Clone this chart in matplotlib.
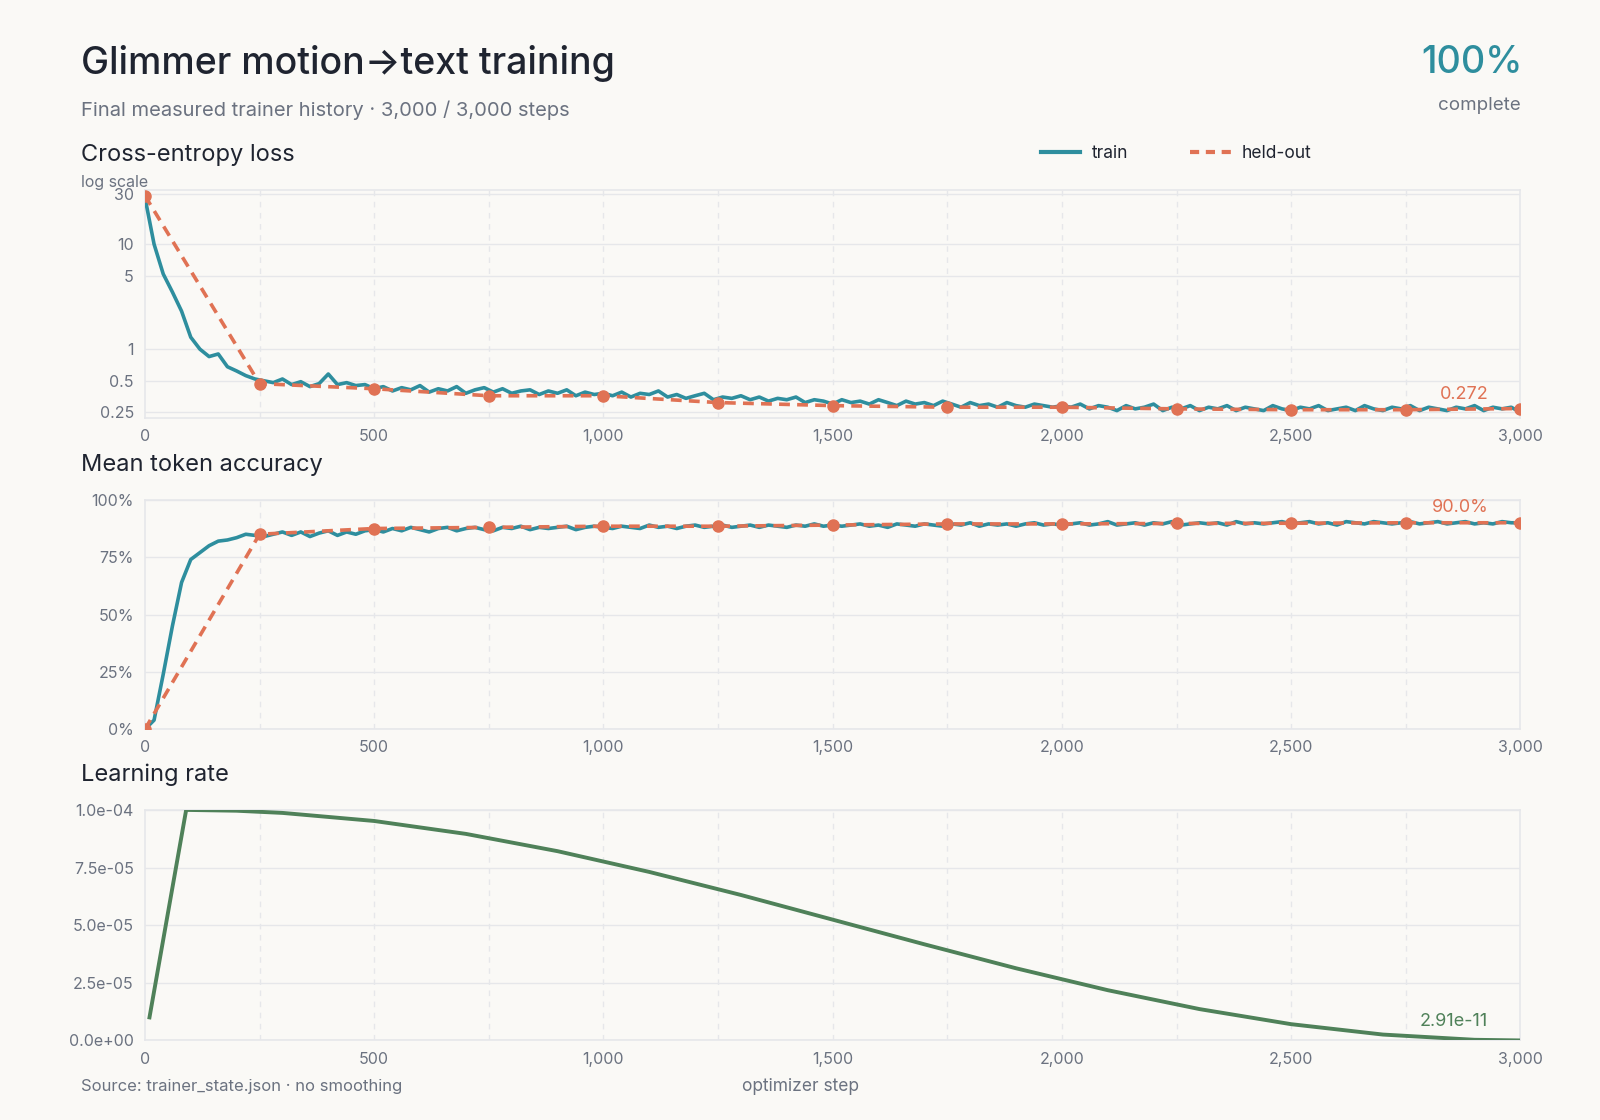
import matplotlib
matplotlib.use("Agg")
import matplotlib.pyplot as plt
from matplotlib.ticker import FuncFormatter, FixedLocator, NullLocator

plt.rcParams['font.family'] = ['Inter', 'DejaVu Sans']

steps = list(range(0, 3001, 20))
train_loss = [28, 10, 5.2, 3.5, 2.3, 1.3, 1.0, 0.85, 0.9, 0.68, 0.62, 0.56, 0.52,
 0.50, 0.48, 0.52, 0.46, 0.49, 0.44, 0.47, 0.58, 0.46, 0.48, 0.45, 0.46, 0.42,
 0.44, 0.40, 0.43, 0.41, 0.45, 0.39, 0.42, 0.40, 0.44, 0.38, 0.41, 0.43, 0.39, 0.42, 0.38, 0.40, 0.41, 0.37, 0.40, 0.38, 0.41, 0.36, 0.39, 0.37, 0.38,
 0.36, 0.39, 0.35, 0.38, 0.37, 0.40, 0.35, 0.37, 0.34, 0.36, 0.38, 0.33, 0.35, 0.34, 0.36, 0.33, 0.35, 0.32, 0.34, 0.33, 0.35, 0.31, 0.33, 0.32, 0.30,
 0.33, 0.31, 0.32, 0.30, 0.33, 0.31, 0.29, 0.32, 0.30, 0.31, 0.29, 0.32, 0.30, 0.28, 0.31, 0.29, 0.30, 0.28, 0.31, 0.29, 0.28, 0.30, 0.29, 0.28, 0.29,
 0.28, 0.30, 0.27, 0.29, 0.28, 0.26, 0.29, 0.27, 0.28, 0.30, 0.26, 0.28, 0.27, 0.29, 0.26, 0.28, 0.27, 0.29, 0.26, 0.28, 0.27, 0.26, 0.29, 0.27, 0.26,
 0.28, 0.27, 0.29, 0.26, 0.27, 0.28, 0.26, 0.29, 0.27, 0.26, 0.28, 0.27, 0.29, 0.26, 0.28, 0.27, 0.26, 0.28, 0.27, 0.29, 0.26, 0.28, 0.27, 0.28, 0.25]
train_acc = [0, 4, 24, 45, 64, 74, 77, 80, 82, 82.5, 83.5, 85, 84.5,
 84, 85, 86, 84.5, 86, 84, 85.5, 86.5, 84.5, 86, 85, 86.5, 87,
 86, 87.5, 86.5, 88, 87, 86, 87.5, 88, 86.5, 87.5, 88, 87, 86.5, 88, 87.5, 88.5, 87, 88, 87.5, 88, 88.5, 87, 88, 88.5, 88,
 87.5, 88.5, 88, 87.5, 89, 88, 88.5, 87.5, 88.5, 89, 88, 88.5, 89, 88, 88.5, 89, 88, 89, 88.5, 88, 89, 88.5, 89.5, 88.5, 89,
 88.5, 89, 89.5, 88.5, 89, 88, 89.5, 89, 88.5, 89.5, 89, 88.5, 89.5, 89, 90, 88.5, 89.5, 89, 89.5, 88.5, 89.5, 90, 89, 89.5, 89,
 89.5, 90, 89, 89.5, 90.5, 89, 89.5, 90, 89, 90, 89.5, 90.5, 89, 89.5, 90, 89.5, 90, 89, 90.5, 89.5, 90, 89.5, 90, 90.5, 89.5,
 90, 90.5, 89.5, 90, 89, 90.5, 90, 89.5, 90.5, 90, 89.5, 90, 90.5, 89.5, 90, 90.5, 89.5, 90, 90.5, 89.5, 90, 89.5, 90.5, 90, 90]

eval_steps = [0, 250, 500, 750, 1000, 1250, 1500, 1750, 2000, 2250, 2500, 2750, 3000]
eval_loss = [29, 0.47, 0.42, 0.36, 0.36, 0.31, 0.29, 0.28, 0.28, 0.27, 0.265, 0.265, 0.272]
eval_acc = [0, 85, 87.5, 88, 88.5, 88.5, 89, 89.5, 89.5, 89.7, 89.8, 90, 90]

lr_steps = [10, 90, 200, 300, 500, 700, 900, 1100, 1300, 1500, 1700, 1900, 2100, 2300, 2500, 2700, 2900, 3000]
lr_vals = [1.0e-5, 1.0e-4, 0.9965e-4, 0.987e-4, 0.952e-4, 0.896e-4, 0.821e-4, 0.731e-4, 0.631e-4,
           0.524e-4, 0.417e-4, 0.313e-4, 0.218e-4, 0.136e-4, 0.0705e-4, 0.0255e-4, 0.0028e-4, 2.91e-11]

BG = '#FAF9F6'; TEAL = '#2E8E9E'; ORANGE = '#E07254'; GREEN = '#4F8159'
DARK = '#1F2430'; GREY = '#6B7280'; GRID = '#E6E7EA'

fig = plt.figure(figsize=(16, 11.2), dpi=100, facecolor=BG)
W, H = 1568, 1098
def rect(x0, y0, x1, y1):
    return [x0 / W, 1 - y1 / H, (x1 - x0) / W, (y1 - y0) / H]

def style(ax):
    ax.set_facecolor(BG)
    for s in ax.spines.values():
        s.set_color(GRID); s.set_linewidth(1.2)
    ax.tick_params(length=0, labelsize=11.5, labelcolor=GREY, pad=8)
    ax.set_xlim(0, 3000)
    ax.set_xticks([0, 500, 1000, 1500, 2000, 2500, 3000])
    ax.xaxis.set_major_formatter(FuncFormatter(lambda v, p: f"{int(v):,}"))
    ax.grid(axis='y', color=GRID, lw=1)
    for v in range(250, 3000, 250):
        ax.axvline(v, color=GRID, lw=1, ls=(0, (4, 4)), zorder=0)

ax1 = fig.add_axes(rect(142, 186, 1490, 410))
style(ax1)
ax1.set_yscale('log')
ax1.set_ylim(0.22, 33)
ax1.yaxis.set_major_locator(FixedLocator([0.25, 0.5, 1, 5, 10, 30]))
ax1.yaxis.set_minor_locator(NullLocator())
ax1.yaxis.set_major_formatter(FuncFormatter(lambda v, p: f"{v:g}"))
ax1.plot(steps, train_loss, color=TEAL, lw=2.6, zorder=3)
ax1.plot(eval_steps, eval_loss, color=ORANGE, lw=2.6, ls=(0, (3, 2)), marker='o', ms=8, zorder=4)
ax1.text(2930, 0.31, "0.272", color=ORANGE, fontsize=13, ha='right', va='bottom')

ax2 = fig.add_axes(rect(142, 490, 1490, 715))
style(ax2)
ax2.set_ylim(0, 100)
ax2.set_yticks([0, 25, 50, 75, 100])
ax2.yaxis.set_major_formatter(FuncFormatter(lambda v, p: f"{int(v)}%"))
ax2.plot(steps, train_acc, color=TEAL, lw=2.6, zorder=3)
ax2.plot(eval_steps, eval_acc, color=ORANGE, lw=2.6, ls=(0, (3, 2)), marker='o', ms=8, zorder=4)
ax2.text(2930, 93, "90.0%", color=ORANGE, fontsize=13, ha='right', va='bottom')

ax3 = fig.add_axes(rect(142, 794, 1490, 1020))
style(ax3)
ax3.set_ylim(0, 1.0e-4)
ax3.set_yticks([0, 2.5e-5, 5e-5, 7.5e-5, 1e-4])
ax3.yaxis.set_major_formatter(FuncFormatter(lambda v, p: f"{v:.1e}"))
ax3.plot(lr_steps, lr_vals, color=GREEN, lw=2.8, zorder=3)
ax3.text(2930, 0.45e-5, "2.91e-11", color=GREEN, fontsize=13, ha='right', va='bottom')

def ftext(x, y, s, **kw):
    fig.text(x / W, 1 - y / H, s, **kw)

ftext(79, 62, "Glimmer motion→text training", fontsize=27, color=DARK, va='center', fontweight='medium')
ftext(79, 108, "Final measured trainer history · 3,000 / 3,000 steps", fontsize=14.5, color=GREY, va='center')
ftext(1492, 62, "100%", fontsize=27, color=TEAL, va='center', ha='right', fontweight='medium')
ftext(1490, 103, "complete", fontsize=13.5, color=GREY, va='center', ha='right')
ftext(79, 152, "Cross-entropy loss", fontsize=17, color=DARK, va='center')
ftext(79, 179, "log scale", fontsize=11.5, color=GREY, va='center')
ftext(79, 456, "Mean token accuracy", fontsize=17, color=DARK, va='center')
ftext(79, 760, "Learning rate", fontsize=17, color=DARK, va='center')
ftext(79, 1065, "Source: trainer_state.json · no smoothing", fontsize=12, color=GREY, va='center')
ftext(784, 1065, "optimizer step", fontsize=12.5, color=GREY, va='center', ha='center')

# legend
lax = fig.add_axes([0, 0, 1, 1], facecolor='none')
lax.set_xlim(0, W); lax.set_ylim(H, 0); lax.axis('off')
lax.plot([1020, 1058], [149, 149], color=TEAL, lw=3)
lax.text(1070, 150, "train", fontsize=12.5, color=DARK, va='center')
lax.plot([1166, 1206], [149, 149], color=ORANGE, lw=3, ls=(0, (2.2, 1.6)))
lax.text(1217, 150, "held-out", fontsize=12.5, color=DARK, va='center')

fig.savefig("out.png", dpi=100, facecolor=BG)
